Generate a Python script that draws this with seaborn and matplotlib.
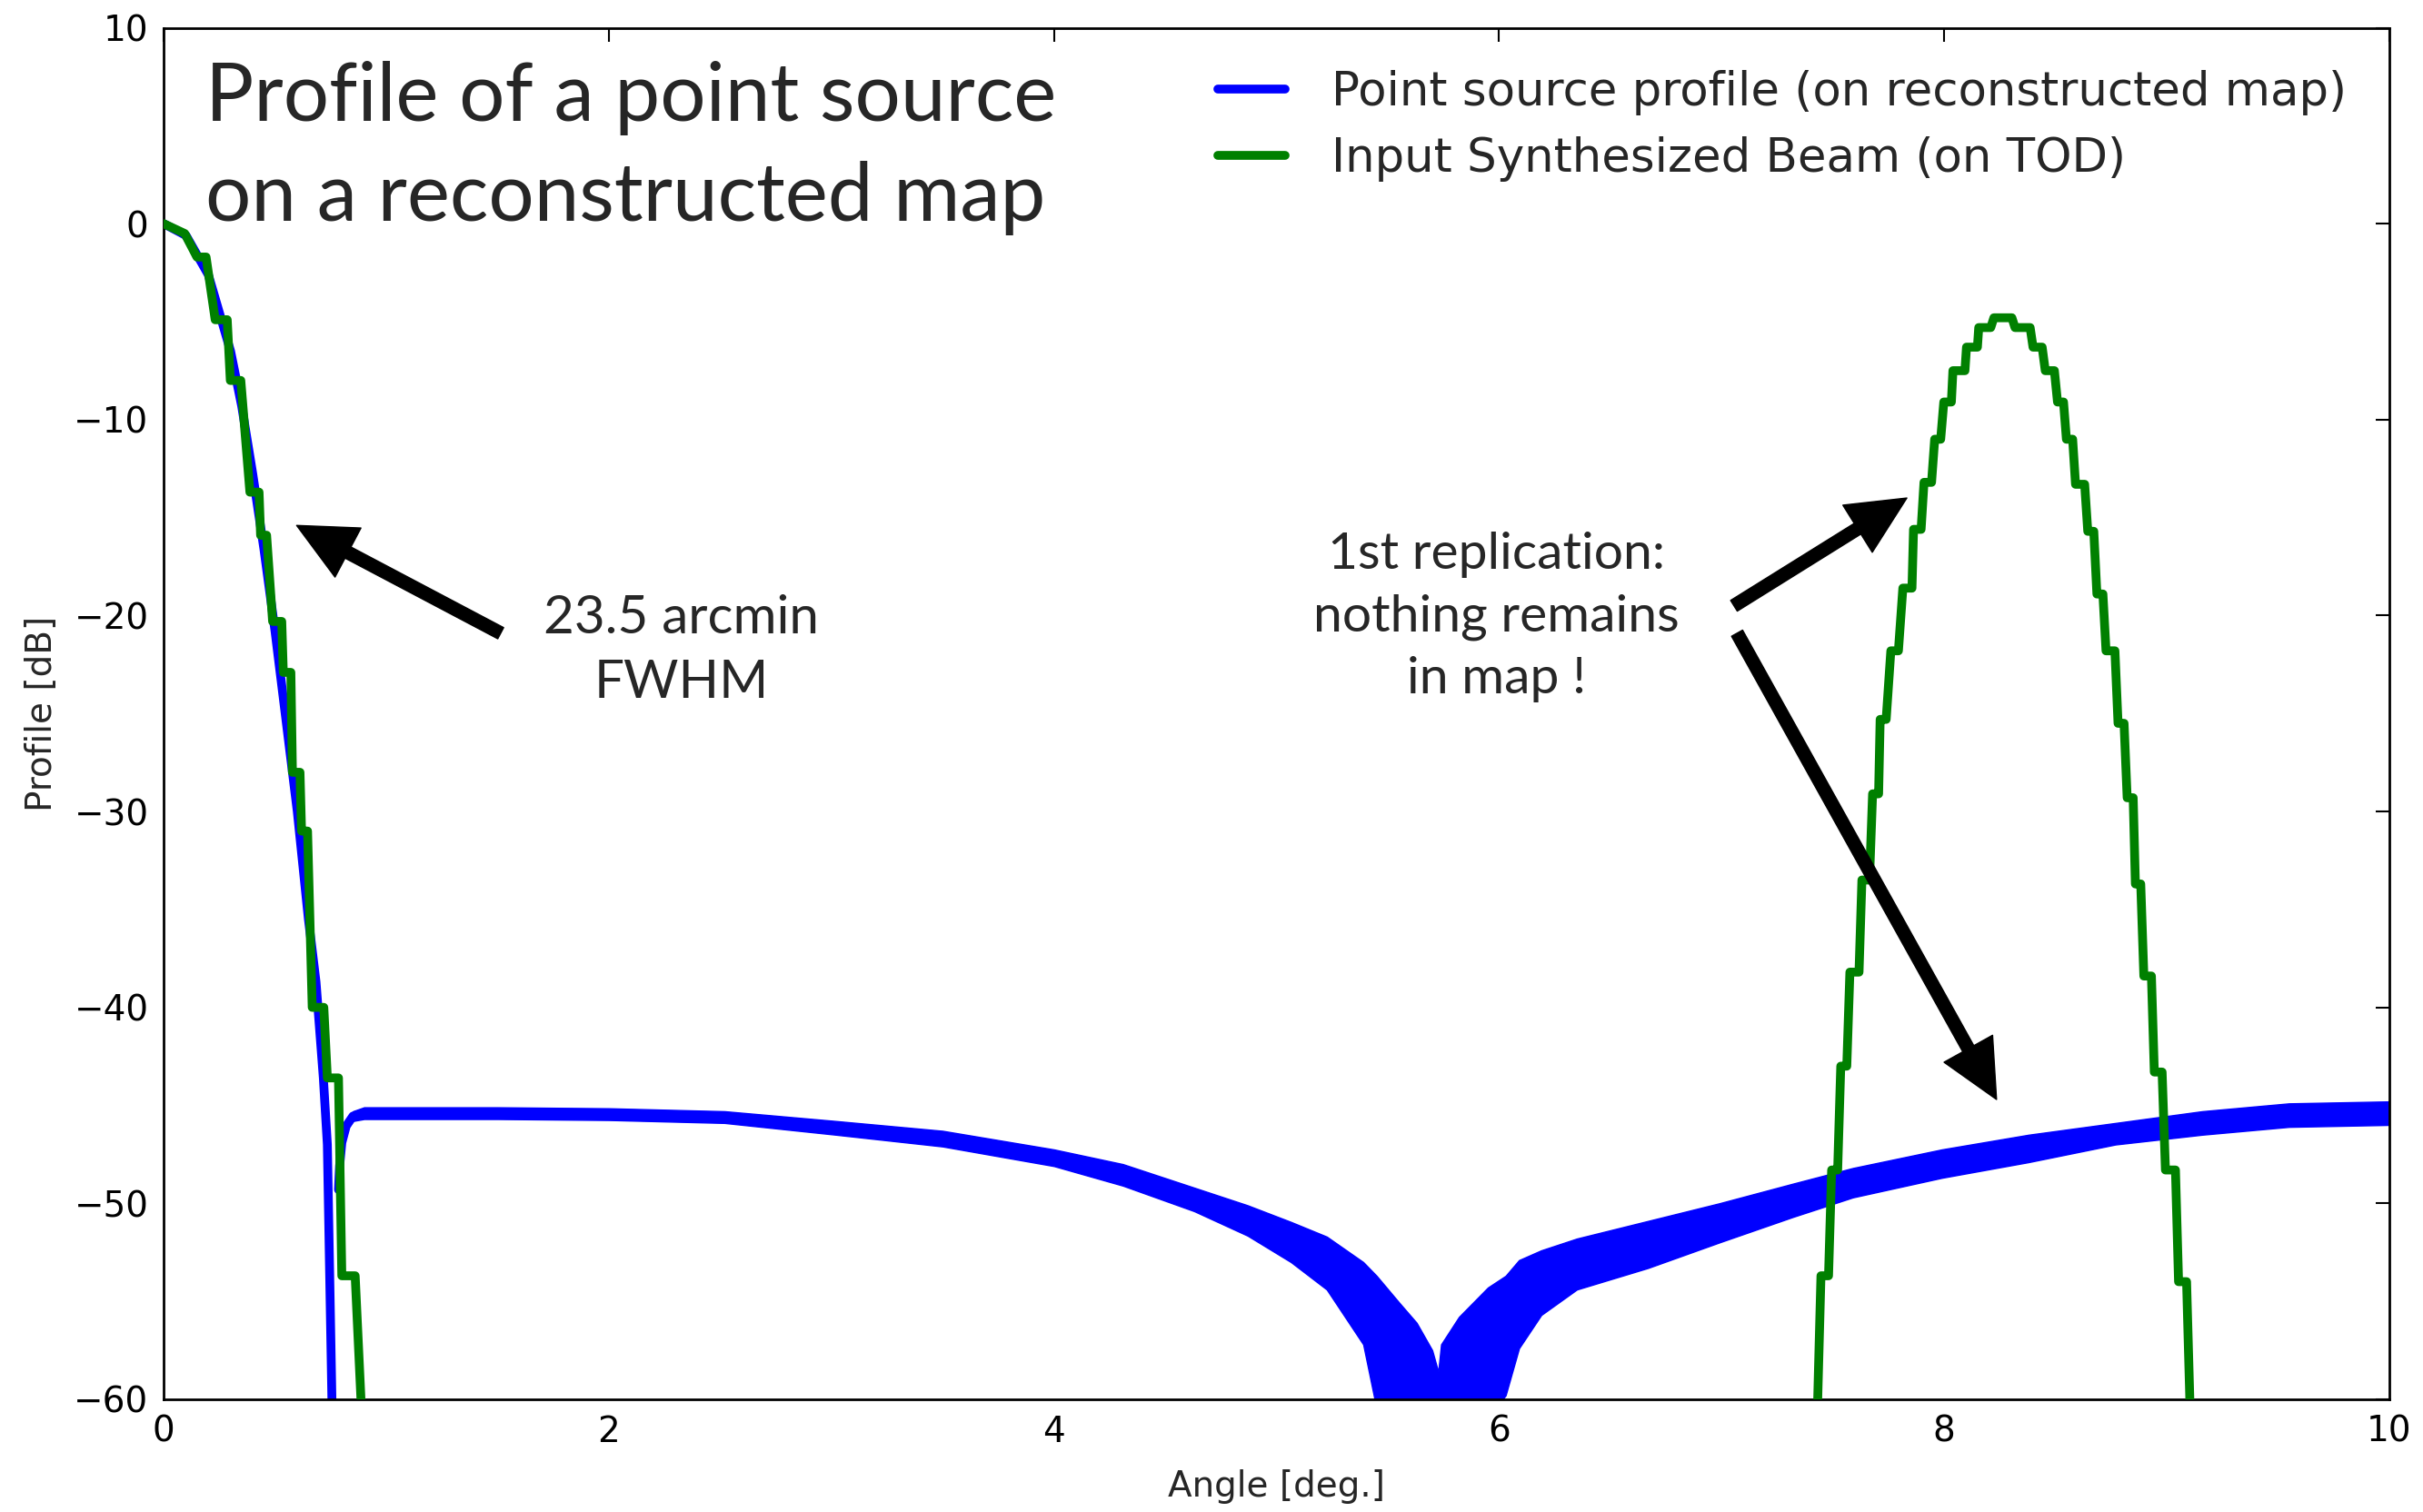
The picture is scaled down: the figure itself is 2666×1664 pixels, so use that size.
import numpy as np
import pandas as pd
import matplotlib
matplotlib.use("Agg")
import matplotlib.pyplot as plt
from matplotlib.lines import Line2D
import seaborn as sns

# ---------------------------------------------------------------------------
# Data (angle in degrees, profile in dB)
# ---------------------------------------------------------------------------
# Reconstructed map: main lobe
map_lobe_x = [0.0, 0.10, 0.20, 0.30, 0.35, 0.40, 0.45, 0.50, 0.55, 0.60, 0.65,
              0.684, 0.717, 0.735, 0.757]
map_lobe_db = [0.0, -0.6, -2.6, -6.5, -9.3, -12.8, -16.6, -20.8, -25.4, -30.0,
               -35.5, -38.7, -43.6, -47.0, -61.0]

# Reconstructed map: residual floor (upper / lower envelope of the scatter)
map_floor_x = [0.785, 0.79, 0.80, 0.82, 0.85, 0.90, 1.50, 2.00, 2.52, 3.02,
               3.50, 4.00, 4.31, 4.63, 4.87, 5.065, 5.226, 5.39, 5.45, 5.55,
               5.63, 5.70, 5.727, 5.74, 5.82, 5.95, 6.03, 6.09, 6.19, 6.35,
               6.67, 6.99, 7.32, 7.59, 7.99, 8.38, 8.77, 9.16, 9.55, 10.0]
map_floor_hi = [-49.0, -47.8, -46.6, -45.8, -45.3, -45.1, -45.1, -45.15,
                -45.3, -45.8, -46.3, -47.25, -48.0, -49.2, -50.1, -50.95,
                -51.7, -53.0, -53.7, -55.05, -56.1, -57.5, -58.6, -57.2,
                -55.8, -54.3, -53.7, -52.9, -52.4, -51.8, -50.9, -50.0,
                -49.0, -48.2, -47.25, -46.5, -45.9, -45.3, -44.9, -44.8]
map_floor_lo = [-49.6, -48.4, -47.2, -46.3, -45.8, -45.7, -45.7, -45.75,
                -45.9, -46.5, -47.1, -48.1, -49.1, -50.4, -51.65, -53.0,
                -54.4, -57.2, -60.5, -61.0, -61.0, -61.0, -61.0, -61.0,
                -61.0, -61.0, -59.8, -57.4, -55.7, -54.4, -53.3, -52.0,
                -50.7, -49.7, -48.7, -47.9, -47.0, -46.5, -46.1, -46.0]

# Input synthesized beam on the TOD: main lobe (stepped sampling)
beam_lobe_x = [0.0, 0.094, 0.149, 0.190, 0.231, 0.285, 0.299, 0.346, 0.387,
               0.428, 0.435, 0.462, 0.489, 0.530, 0.537, 0.571, 0.578, 0.612,
               0.619, 0.646, 0.667, 0.719, 0.735, 0.785, 0.800, 0.860, 0.886,
               0.890]
beam_lobe_db = [0.0, -0.5, -1.7, -1.7, -4.9, -4.9, -8.0, -8.0, -13.7, -13.7,
                -15.9, -15.9, -20.3, -20.3, -22.9, -22.9, -28.0, -28.0, -31.0,
                -31.0, -40.0, -40.0, -43.6, -43.6, -53.7, -53.7, -60.0, -61.0]

# Input synthesized beam: first replication
beam_rep_x = [7.430, 7.447, 7.481, 7.495, 7.522, 7.536, 7.563, 7.577, 7.618,
              7.631, 7.665, 7.679, 7.706, 7.713, 7.740, 7.761, 7.795, 7.815,
              7.856, 7.863, 7.897, 7.910, 7.944, 7.958, 7.985, 7.999, 8.033,
              8.040, 8.094, 8.101, 8.150, 8.156, 8.210, 8.224, 8.305, 8.319,
              8.387, 8.400, 8.441, 8.455, 8.496, 8.510, 8.537, 8.550, 8.578,
              8.591, 8.632, 8.646, 8.673, 8.687, 8.714, 8.728, 8.768, 8.782,
              8.809, 8.823, 8.850, 8.860, 8.884, 8.898, 8.932, 8.945, 8.980,
              8.995, 9.040, 9.054, 9.090, 9.107]
beam_rep_db = [-61.0, -53.7, -53.7, -48.3, -48.3, -43.0, -43.0, -38.2, -38.2,
               -33.5, -33.5, -29.1, -29.1, -25.3, -25.3, -21.8, -21.8, -18.6,
               -18.6, -15.6, -15.6, -13.2, -13.2, -11.0, -11.0, -9.1, -9.1,
               -7.5, -7.5, -6.3, -6.3, -5.3, -5.3, -4.8, -4.8, -5.3, -5.3,
               -6.3, -6.3, -7.5, -7.5, -9.1, -9.1, -11.0, -11.0, -13.3, -13.3,
               -15.7, -15.7, -18.9, -18.9, -21.8, -21.8, -25.5, -25.5, -29.3,
               -29.3, -33.7, -33.7, -38.4, -38.4, -43.3, -43.3, -48.3, -48.3,
               -54.0, -54.0, -61.0]

series_labels = ["Point source profile (on reconstructed map)",
                 "Input Synthesized Beam (on TOD)"]
x_ticks = [0, 2, 4, 6, 8, 10]
y_ticks = [-60, -50, -40, -30, -20, -10, 0, 10]

# ---------------------------------------------------------------------------
# Style
# ---------------------------------------------------------------------------
sns.set_style("white")
plt.rcParams.update({
    "font.family": ["DejaVu Sans"],
    "axes.edgecolor": "black",
    "axes.linewidth": 2.0,
    "xtick.direction": "in",
    "ytick.direction": "in",
    "xtick.top": True,
    "ytick.right": True,
    "xtick.major.size": 11,
    "ytick.major.size": 11,
    "xtick.major.width": 1.5,
    "ytick.major.width": 1.5,
    "xtick.major.pad": 12,
    "ytick.major.pad": 12,
    "xtick.color": "black",
    "ytick.color": "black",
})

BLUE = "#0000ff"
GREEN = "#008000"
LW = 7.0
SLIDE_FONT = ["Lato", "DejaVu Sans"]

fig = plt.figure(figsize=(26.66, 16.64), dpi=100)
ax = fig.add_axes([0.0676, 0.0746, 0.9184, 0.907])

# Reconstructed-map profile
lobe_df = pd.DataFrame({"angle": map_lobe_x, "db": map_lobe_db})
sns.lineplot(data=lobe_df, x="angle", y="db", color=BLUE, lw=LW, sort=False,
             estimator=None, ax=ax, zorder=2)

floor_mid = [(h + l) / 2 for h, l in zip(map_floor_hi, map_floor_lo)]
floor_df = pd.DataFrame({"angle": map_floor_x, "db": floor_mid})
ax.fill_between(map_floor_x, map_floor_lo, map_floor_hi, color=BLUE,
                linewidth=1.0, zorder=2)
sns.lineplot(data=floor_df, x="angle", y="db", color=BLUE, lw=LW, sort=False,
             estimator=None, ax=ax, zorder=2)

# Input beam
beam_df = pd.DataFrame({"angle": beam_lobe_x, "db": beam_lobe_db})
rep_df = pd.DataFrame({"angle": beam_rep_x, "db": beam_rep_db})
sns.lineplot(data=beam_df, x="angle", y="db", color=GREEN, lw=LW, sort=False,
             estimator=None, ax=ax, zorder=3)
sns.lineplot(data=rep_df, x="angle", y="db", color=GREEN, lw=LW, sort=False,
             estimator=None, ax=ax, zorder=3)

ax.set_xlim(0, 10)
ax.set_ylim(-60, 10)
ax.set_xticks(x_ticks)
ax.set_yticks(y_ticks)
ax.set_xticklabels([str(t) for t in x_ticks])
ax.set_yticklabels([str(t).replace("-", "\u2212") for t in y_ticks])
ax.tick_params(labelsize=28)
ax.set_xlabel("Angle [deg.]", fontsize=28, labelpad=16)
ax.set_ylabel("Profile [dB]", fontsize=28, labelpad=12)
for sp in ax.spines.values():
    sp.set_visible(True)
    sp.set_color("black")
    sp.set_linewidth(2.0)

handles = [Line2D([], [], color=BLUE, lw=LW), Line2D([], [], color=GREEN, lw=LW)]
ax.legend(handles, series_labels, loc="upper right", frameon=False,
          fontsize=37, handlelength=1.45, handletextpad=1.0, labelspacing=0.45,
          borderaxespad=0.5)

# Slide annotations
ax.text(0.185, 5.27, "Profile of a point source", fontsize=64,
        family=SLIDE_FONT, ha="left", va="baseline", zorder=5)
ax.text(0.185, 0.17, "on a reconstructed map", fontsize=64,
        family=SLIDE_FONT, ha="left", va="baseline", zorder=5)

ax.text(2.326, -20.9, "23.5 arcmin", fontsize=42, family=SLIDE_FONT,
        ha="center", va="baseline", zorder=5)
ax.text(2.326, -24.2, "FWHM", fontsize=42, family=SLIDE_FONT,
        ha="center", va="baseline", zorder=5)

ax.text(5.99, -17.6, "1st replication:", fontsize=41, family=SLIDE_FONT,
        ha="center", va="baseline", zorder=5)
ax.text(5.99, -20.8, "nothing remains", fontsize=41, family=SLIDE_FONT,
        ha="center", va="baseline", zorder=5)
ax.text(5.99, -23.95, "in map !", fontsize=41, family=SLIDE_FONT,
        ha="center", va="baseline", zorder=5)

arrow_style = dict(facecolor="black", edgecolor="black", width=10,
                   headwidth=44, headlength=46, shrink=0.0)
ax.annotate("", xy=(0.597, -15.4), xytext=(1.514, -20.9),
            arrowprops=arrow_style, zorder=6)
ax.annotate("", xy=(7.833, -14.0), xytext=(7.056, -19.5),
            arrowprops=arrow_style, zorder=6)
ax.annotate("", xy=(8.236, -44.7), xytext=(7.07, -20.9),
            arrowprops=arrow_style, zorder=6)

fig.savefig("out.png", dpi=100, facecolor="white")
